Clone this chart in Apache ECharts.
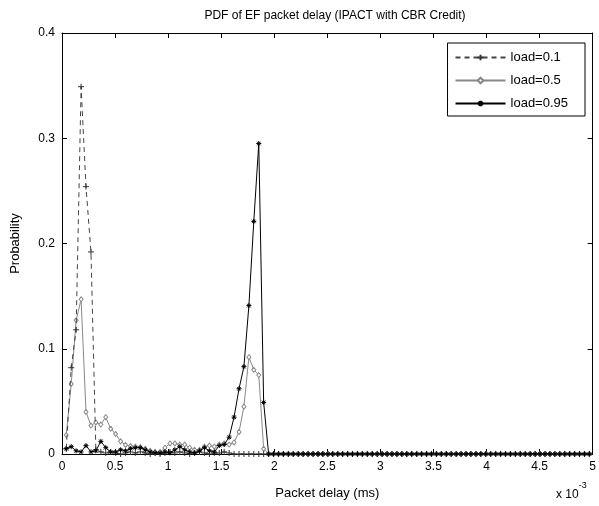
<!DOCTYPE html>
<html>
<head>
<meta charset="utf-8">
<script src="https://cdn.jsdelivr.net/npm/echarts@6/dist/echarts.min.js"></script>
<style>html,body{margin:0;padding:0;background:#fff}#c{width:599px;height:506px}</style>
</head>
<body>
<div id="c"></div>
<script>
// Packet delay bins (x 10^-3 ms)
var delays = [
 0.040,0.087,0.133,0.180,0.226,0.273,0.319,0.366,0.412,0.459,
 0.505,0.552,0.598,0.645,0.691,0.738,0.784,0.831,0.877,0.924,
 0.970,1.017,1.063,1.110,1.156,1.203,1.249,1.296,1.342,1.389,
 1.435,1.482,1.528,1.575,1.621,1.668,1.714,1.761,1.807,1.854,
 1.900,1.947,1.993,2.040,2.086,2.133,2.179,2.226,2.272,2.319,
 2.365,2.412,2.458,2.505,2.551,2.598,2.644,2.691,2.737,2.784,
 2.830,2.877,2.923,2.970,3.016,3.063,3.109,3.156,3.202,3.249,
 3.295,3.342,3.388,3.435,3.481,3.528,3.574,3.621,3.667,3.714,
 3.760,3.807,3.853,3.900,3.946,3.993,4.039,4.086,4.132,4.179,
 4.225,4.272,4.318,4.365,4.411,4.458,4.504,4.551,4.597,4.644,
 4.690,4.737,4.783,4.830,4.876,4.923,4.969
];
var load01 = [
 0.005,0.082,0.118,0.349,0.254,0.192,0.004,0.002,0.001,0.002,
 0.001,0.000,0.001,0.002,0.001,0.002,0.001,0.000,0.001,0.000,
 0.001,0.002,0.001,0.002,0.001,0.000,0.001,0.002,0.001,0.000,
 0.001,0.001,0.002,0.001,0.000,0.000,0.000,0.000,0.000,0.000,
 0.000,
 0,0,0,0,0,0,0,0,0,0,0,
 0,0,0,0,0,0,0,0,0,0,0,
 0,0,0,0,0,0,0,0,0,0,0,
 0,0,0,0,0,0,0,0,0,0,0,
 0,0,0,0,0,0,0,0,0,0,0,
 0,0,0,0,0,0,0,0,0,0,0
];
var load05 = [
 0.018,0.0665,0.127,0.147,0.040,0.027,0.030,0.028,0.035,0.024,
 0.019,0.012,0.0086,0.0076,0.007,0.0065,0.005,0.003,0.002,0.002,
 0.006,0.010,0.010,0.009,0.009,0.006,0.004,0.004,0.007,0.008,
 0.007,0.009,0.010,0.009,0.011,0.021,0.045,0.092,0.080,0.075,
 0.005,
 0,0,0,0,0,0,0,0,0,0,0,
 0,0,0,0,0,0,0,0,0,0,0,
 0,0,0,0,0,0,0,0,0,0,0,
 0,0,0,0,0,0,0,0,0,0,0,
 0,0,0,0,0,0,0,0,0,0,0,
 0,0,0,0,0,0,0,0,0,0,0
];
var load095 = [
 0.005,0.007,0.003,0.002,0.008,0.002,0.003,0.012,0.006,0.002,
 0.002,0.004,0.003,0.005,0.006,0.006,0.004,0.002,0.001,0.001,
 0.002,0.001,0.004,0.007,0.004,0.002,0.001,0.003,0.006,0.003,
 0.002,0.008,0.009,0.016,0.035,0.062,0.083,0.141,0.221,0.295,
 0.049,
 0,0,0,0,0,0,0,0,0,0,0,
 0,0,0,0,0,0,0,0,0,0,0,
 0,0,0,0,0,0,0,0,0,0,0,
 0,0,0,0,0,0,0,0,0,0,0,
 0,0,0,0,0,0,0,0,0,0,0,
 0,0,0,0,0,0,0,0,0,0,0
];
var seriesNames = ['load=0.1','load=0.5','load=0.95'];
var xTicks = [0,0.5,1,1.5,2,2.5,3,3.5,4,4.5,5];
var yTicks = [0,0.1,0.2,0.3,0.4];

function pairs(vals){ return delays.map(function(d,i){ return [d, vals[i]]; }); }

var FONT = 'Liberation Sans, Arial, sans-serif';
var chart = echarts.init(document.getElementById('c'), null, {renderer:'canvas'});
function axisCommon(){
  return {
    axisLine:{show:true, onZero:false, lineStyle:{color:'#000', width:1}},
    axisTick:{show:true, inside:true, length:5, lineStyle:{color:'#000'}},
    splitLine:{show:false}
  };
}
var plusPath = 'path://M0,5L10,5M5,0L5,10';
var starPath = 'path://M5,0L5,10M0,5L10,5M1.5,1.5L8.5,8.5M8.5,1.5L1.5,8.5';

chart.setOption({
  animation:false,
  backgroundColor:'#fff',
  textStyle:{fontFamily:FONT, color:'#000'},
  title:{
    text:'PDF of EF packet delay (IPACT with CBR Credit)',
    left:330, top:5, textAlign:'center',
    textStyle:{fontSize:12, fontWeight:'normal', color:'#000', fontFamily:FONT}
  },
  grid:{left:62, right:2, top:33, bottom:52},
  legend:{
    data:seriesNames,
    orient:'vertical', right:14, top:43,
    itemWidth:50, itemHeight:7, itemGap:8,
    padding:[7,17,5,7],
    borderColor:'#000', borderWidth:1, backgroundColor:'#fff',
    textStyle:{fontSize:13, color:'#000', fontFamily:FONT, lineHeight:15}
  },
  xAxis:[
    Object.assign({
      type:'value', min:0, max:5, interval:0.5, position:'bottom',
      name:'Packet delay (ms)', nameLocation:'middle', nameGap:33,
      nameTextStyle:{fontSize:13, color:'#000', fontFamily:FONT},
      axisLabel:{fontSize:12, color:'#000', margin:7, fontFamily:FONT,
        formatter:function(v){ return xTicks.indexOf(v) >= 0 ? String(v) : ''; }}
    }, axisCommon()),
    Object.assign({
      type:'value', min:0, max:5, interval:0.5, position:'top',
      axisLabel:{show:false}
    }, axisCommon())
  ],
  yAxis:[
    Object.assign({
      type:'value', min:0, max:0.4, interval:0.1, position:'left',
      name:'Probability', nameLocation:'middle', nameGap:40, nameRotate:90,
      nameTextStyle:{fontSize:13, color:'#000', fontFamily:FONT},
      axisLabel:{fontSize:12, color:'#000', margin:7, fontFamily:FONT,
        formatter:function(v){ var r = Math.round(v*10)/10; return yTicks.indexOf(r) >= 0 ? String(r) : ''; }}
    }, axisCommon()),
    Object.assign({
      type:'value', min:0, max:0.4, interval:0.1, position:'right',
      axisLabel:{show:false}
    }, axisCommon())
  ],
  graphic:[{
    type:'text', left:556, top:481,
    style:{
      text:'{a|x 10}{b|-3}',
      rich:{
        a:{fontSize:12, fontFamily:FONT, fill:'#000', padding:[8,0,0,0]},
        b:{fontSize:9, fontFamily:FONT, fill:'#000', verticalAlign:'top'}
      }
    }
  }],
  series:[
    {
      name:seriesNames[0], type:'line', data:pairs(load01),
      symbol:plusPath, symbolSize:6, showAllSymbol:true,
      lineStyle:{color:'#444', width:1, type:[5,4]},
      itemStyle:{color:'#333', borderColor:'#333', borderWidth:1},
      z:3
    },
    {
      name:seriesNames[1], type:'line', data:pairs(load05),
      symbol:'diamond', symbolSize:[4,5], showAllSymbol:true,
      lineStyle:{color:'#888', width:1},
      itemStyle:{color:'#fff', borderColor:'#888', borderWidth:1},
      z:2
    },
    {
      name:seriesNames[2], type:'line', data:pairs(load095),
      symbol:starPath, symbolSize:5, showAllSymbol:true,
      lineStyle:{color:'#000', width:1},
      itemStyle:{color:'#000', borderColor:'#000', borderWidth:1},
      z:4
    }
  ]
});
</script>
</body>
</html>
